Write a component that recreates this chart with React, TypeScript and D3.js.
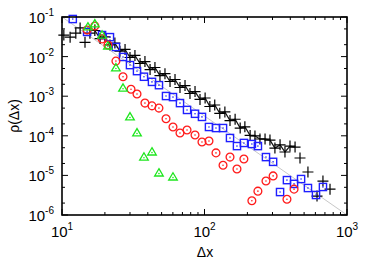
import * as d3 from 'd3';

// black "+" series (dense)
const blackX = [10.3, 11.4, 12.5, 13.4, 14.5, 15.7,
  17.0, 18.5, 20.0, 21.7, 23.5, 25.5, 27.7, 30.0, 32.5, 35.3, 38.2, 41.5, 44.9, 48.7, 52.8, 57.3,
  62.1, 67.3, 73.0, 79.1, 85.8, 93.0, 101, 109, 118, 128, 139, 151, 164, 178, 192, 209,
  226, 245, 266, 288, 312, 339, 367, 398, 432,
  468, 532, 616, 678, 760];
const blackY = [0.035, 0.031, 0.039, 0.053, 0.023, 0.039,
  0.0456, 0.0285, 0.0316, 0.0197, 0.0219, 0.0137, 0.0152, 0.0095, 0.0107, 0.0067, 0.0075, 0.0047, 0.0053, 0.0033, 0.0037, 0.00235,
  0.00264, 0.00166, 0.00186, 0.00117, 0.00131, 0.00083, 0.00090, 0.00055, 0.00060, 0.00037, 0.00040, 0.000243, 0.000262, 0.000157, 0.000169, 0.000102,
  9.9e-5, 8.3e-5, 8.3e-5, 7.8e-5, 4.9e-5, 5.9e-5, 3.9e-5, 5.5e-5, 5.2e-5,
  2.75e-5, 1.22e-5, 3.0e-6, 7.2e-6, 4.5e-6];
// blue squares
const blueX = [11.9, 15.0, 19.1, 21.7, 23.9, 26.8, 30.0, 33.6, 37.6, 42.8, 47.9, 53.7, 60.1, 67.3, 75.4, 85.8,
  96.0, 107.5, 120.4, 134.9, 151, 169, 189, 215, 237, 270, 303, 339, 379, 425, 476, 532, 606, 678];
const blueY = [0.089, 0.042, 0.035, 0.031, 0.0175, 0.0098, 0.0061, 0.0043, 0.0031, 0.0023, 0.0019, 0.00101, 0.00095, 0.00067, 0.00045, 0.00036,
  0.00030, 0.000167, 0.000157, 0.000157, 8.8e-5, 5.5e-5, 6.6e-5, 6.2e-5, 5.5e-5, 2.9e-5, 2.2e-5, 3.8e-6, 7.6e-6, 6.1e-6, 8.1e-6, 4.8e-6, 3.2e-6, 5.1e-6];
// red circles
const redX = [15.0, 17.0, 19.1, 21.0, 23.9, 26.8, 30.5, 33.6, 38.2, 42.8, 47.9, 53.7, 60.1, 67.3, 75.4, 85.8,
  96.0, 107.5, 120.4, 134.9, 151, 169, 189, 215, 237, 270, 303, 379, 425];
const redY = [0.047, 0.059, 0.028, 0.0196, 0.0077, 0.0031, 0.0015, 0.00114, 0.00067, 0.00057, 0.00050, 0.00027, 0.000167, 0.000118, 0.000140, 0.000105,
  7.0e-5, 7.4e-5, 3.7e-5, 1.8e-5, 2.9e-5, 1.45e-5, 2.6e-5, 2.3e-6, 4.0e-6, 7.2e-6, 9.7e-6, 2.5e-6, 4.5e-6];
// green triangles
const greenX = [15.2, 17.0, 19.1, 21.0, 23.9, 26.8, 30.0, 33.6, 37.6, 42.8, 47.9, 60.1];
const greenY = [0.056, 0.067, 0.035, 0.0185, 0.0052, 0.0016, 0.00030, 0.000118, 2.9e-5, 3.9e-5, 1.15e-5, 9.1e-6];
// reference power law
const refX = [10, 1000];
const refY = [0.1, 1e-6];

const xTickExp = [1, 2, 3];
const yTickExp = [-1, -2, -3, -4, -5, -6];

const FONT = 'Liberation Sans, Arial, Helvetica, sans-serif';

export default function App() {
  const x = d3.scaleLog().domain([10, 1000]).range([62, 347]);
  const y = d3.scaleLog().domain([1e-6, 1e-1]).range([215, 17]);
  const [x0, x1] = x.range();
  const [y0, y1] = y.range();

  const xMinor = x.ticks().filter(v => !xTickExp.some(e => Math.abs(v - 10 ** e) < 1e-9));
  const yMinor = y.ticks().filter(v => {
    const m = Math.round(v / 10 ** Math.floor(Math.log10(v) + 1e-9));
    return m === 2 || m === 5;
  });

  const black = blackX.map((v, i) => [v, blackY[i]]);
  const blue = blueX.map((v, i) => [v, blueY[i]]);
  const red = redX.map((v, i) => [v, redY[i]]);
  const green = greenX.map((v, i) => [v, greenY[i]]);

  const line = d3.line<number[]>().x(d => x(d[0])).y(d => y(d[1]));
  const blackLine = black.filter(d => d[0] >= 17 && d[0] <= 440);

  return (
    <svg width={374} height={262} style={{ position: 'absolute', left: 0, top: 0, background: '#fff' }}
      fontFamily={FONT}>
      <path d={line(refX.map((v, i) => [v, refY[i]])) || ''} stroke="#c8c8c8" strokeWidth={1} fill="none" />

      <path d={line(blackLine) || ''} stroke="#111" strokeWidth={1.2} fill="none" />
      {black.map((d, i) => (
        <path key={'k' + i} transform={`translate(${x(d[0])},${y(d[1])})`} d="M-5.5,0H5.5M0,-5.5V5.5"
          stroke="#000" strokeWidth={1.2} fill="none" />
      ))}

      {blue.map((d, i) => (
        <g key={'b' + i} transform={`translate(${x(d[0])},${y(d[1])})`}>
          <rect x={-3.6} y={-3.6} width={7.2} height={7.2} fill="none" stroke="#1f1fff" strokeWidth={1.4} />
          <circle r={0.8} fill="#1f1fff" />
        </g>
      ))}

      {red.map((d, i) => (
        <g key={'r' + i} transform={`translate(${x(d[0])},${y(d[1])})`}>
          <circle r={3.9} fill="none" stroke="#ff1a1a" strokeWidth={1.3} />
          <circle r={0.8} fill="#ff1a1a" />
        </g>
      ))}

      {green.map((d, i) => (
        <g key={'g' + i} transform={`translate(${x(d[0])},${y(d[1])})`}>
          <path d="M0,-4.3L4.3,3L-4.3,3Z" fill="none" stroke="#1ee61e" strokeWidth={1.3} />
          <circle r={0.8} cy={0.6} fill="#1ee61e" />
        </g>
      ))}

      {/* frame */}
      <rect x={x0} y={y1} width={x1 - x0} height={y0 - y1} fill="none" stroke="#000" strokeWidth={1.6} />

      {/* x ticks */}
      {xTickExp.map(e => (
        <g key={'xt' + e}>
          <line x1={x(10 ** e)} x2={x(10 ** e)} y1={y0} y2={y0 - 6} stroke="#000" />
          <line x1={x(10 ** e)} x2={x(10 ** e)} y1={y1} y2={y1 + 6} stroke="#000" />
          <text x={x(10 ** e)} y={237} textAnchor="middle" fontSize={15}>
            10<tspan fontSize={10} dy={-7}>{e}</tspan>
          </text>
        </g>
      ))}
      {xMinor.map((v, i) => (
        <g key={'xm' + i}>
          <line x1={x(v)} x2={x(v)} y1={y0} y2={y0 - 3} stroke="#000" />
          <line x1={x(v)} x2={x(v)} y1={y1} y2={y1 + 3} stroke="#000" />
        </g>
      ))}

      {/* y ticks */}
      {yTickExp.map(e => (
        <g key={'yt' + e}>
          <line x1={x0} x2={x0 + 6} y1={y(10 ** e)} y2={y(10 ** e)} stroke="#000" />
          <line x1={x1} x2={x1 - 6} y1={y(10 ** e)} y2={y(10 ** e)} stroke="#000" />
          <text x={54} y={y(10 ** e) + 6} textAnchor="end" fontSize={15}>
            10<tspan fontSize={10} dy={-7}>{e}</tspan>
          </text>
        </g>
      ))}
      {yMinor.map((v, i) => (
        <g key={'ym' + i}>
          <line x1={x0} x2={x0 + 3} y1={y(v)} y2={y(v)} stroke="#000" />
          <line x1={x1} x2={x1 - 3} y1={y(v)} y2={y(v)} stroke="#000" />
        </g>
      ))}

      <text x={205} y={257} textAnchor="middle" fontSize={14}>Δx</text>
      <text transform="translate(19,116) rotate(-90)" textAnchor="middle" fontSize={14}>ρ(Δx)</text>
    </svg>
  );
}
